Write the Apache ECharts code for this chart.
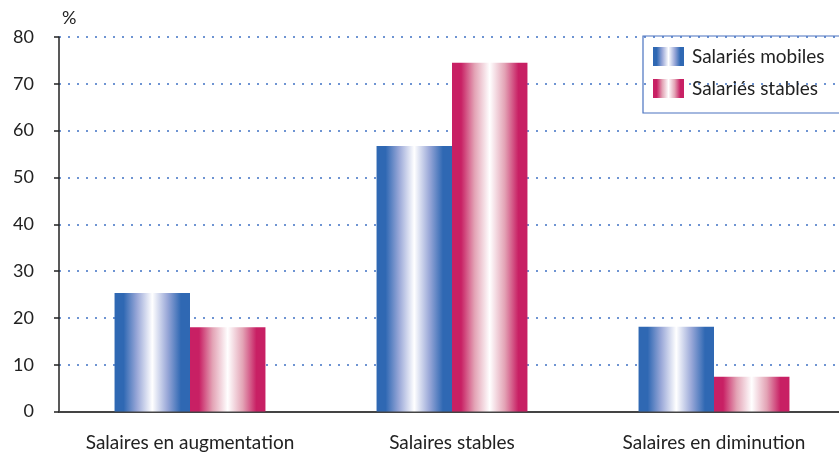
<!DOCTYPE html>
<html><head><meta charset="utf-8">
<script src="https://cdn.jsdelivr.net/npm/echarts@6/dist/echarts.min.js"></script>
<style>html,body{margin:0;padding:0;background:#fff}#c{width:839px;height:452px}</style>
</head><body><div id="c"></div>
<script>
const categories = ['Salaires en augmentation', 'Salaires stables', 'Salaires en diminution'];
const mobiles = [25.3, 56.7, 18.1];
const stables = [18.0, 74.5, 7.4];
const yTicks = [0, 10, 20, 30, 40, 50, 60, 70, 80];
const seriesNames = ['Salariés mobiles', 'Salariés stables'];

function grad(c, mid) {
  return new echarts.graphic.LinearGradient(0, 0, 1, 0, [
    {offset: 0, color: c}, {offset: 0.12, color: c},
    {offset: 0.3, color: mid}, {offset: 0.5, color: '#ffffff'},
    {offset: 0.7, color: mid}, {offset: 0.88, color: c}, {offset: 1, color: c}
  ]);
}
const font = 'Lato, "Open Sans", sans-serif';
const chart = echarts.init(document.getElementById('c'));
chart.setOption({
  animation: false,
  textStyle: {fontFamily: font},
  grid: {left: 59, width: 786, top: 37, bottom: 40.5, containLabel: false, outerBoundsMode: 'none'},
  legend: {
    orient: 'vertical', left: 643, top: 36, icon: 'rect',
    padding: [11, 60, 15, 10], itemGap: 13, itemWidth: 31, itemHeight: 19,
    borderColor: '#4a72c0', borderWidth: 1.2,
    textStyle: {fontSize: 19, color: '#222', fontFamily: font, padding: [0, 0, 0, 3]},
    data: seriesNames
  },
  xAxis: {
    type: 'category', data: categories,
    axisLine: {lineStyle: {color: '#444', width: 2}},
    axisTick: {show: false},
    axisLabel: {fontSize: 19, color: '#222', margin: 22, interval: 0}
  },
  yAxis: {
    type: 'value', min: yTicks[0], max: yTicks[yTicks.length - 1], interval: 10,
    name: '%', nameLocation: 'end', nameGap: 10,
    nameTextStyle: {fontSize: 18, color: '#222', align: 'left', padding: [0, 0, 0, 3]},
    axisLine: {show: true, lineStyle: {color: '#222', width: 1.5}},
    axisTick: {show: true, length: 5, lineStyle: {color: '#222', width: 1.5}},
    axisLabel: {fontSize: 18, color: '#222', margin: 25},
    splitLine: {lineStyle: {color: '#3f72c4', type: [2, 7], width: 1.5}}
  },
  series: [
    {name: seriesNames[0], type: 'bar', data: mobiles, barGap: '0%', barCategoryGap: '42.4%',
     itemStyle: {color: grad('#2f68b3', '#9aa8d8')}},
    {name: seriesNames[1], type: 'bar', data: stables,
     itemStyle: {color: grad('#c82064', '#e3a3b5')}}
  ]
});
</script></body></html>
